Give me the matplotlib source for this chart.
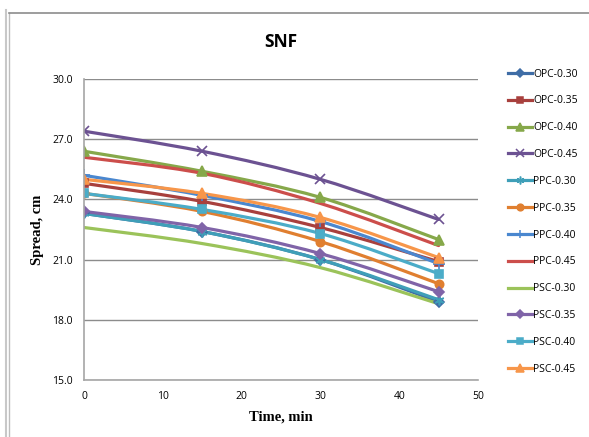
import numpy as np
import matplotlib
matplotlib.use('Agg')
import matplotlib.pyplot as plt
from matplotlib.path import Path
from matplotlib.patches import PathPatch
from matplotlib.lines import Line2D

# slump spread readings (cm) at each time step
time_min = [0, 15, 30, 45]

opc_030 = [23.3, 22.4, 21.0, 18.9]
opc_035 = [24.8, 23.9, 22.6, 20.9]
opc_040 = [26.4, 25.4, 24.1, 22.0]
opc_045 = [27.4, 26.4, 25.0, 23.0]
ppc_030 = [23.3, 22.4, 21.0, 19.0]
ppc_035 = [24.3, 23.4, 21.9, 19.8]
ppc_040 = [25.2, 24.2, 22.9, 20.8]
ppc_045 = [26.1, 25.3, 23.8, 21.7]
psc_030 = [22.6, 21.8, 20.6, 18.8]
psc_035 = [23.4, 22.6, 21.3, 19.4]
psc_040 = [24.3, 23.5, 22.3, 20.3]
psc_045 = [25.0, 24.3, 23.1, 21.1]

labels = ['OPC-0.30', 'OPC-0.35', 'OPC-0.40', 'OPC-0.45',
          'PPC-0.30', 'PPC-0.35', 'PPC-0.40', 'PPC-0.45',
          'PSC-0.30', 'PSC-0.35', 'PSC-0.40', 'PSC-0.45']
series = [opc_030, opc_035, opc_040, opc_045,
          ppc_030, ppc_035, ppc_040, ppc_045,
          psc_030, psc_035, psc_040, psc_045]

colors = ['#3F6DA6', '#A8403D', '#86A84A', '#6C5292',
          '#3F9FB8', '#E07F30', '#4A87CF', '#CC4E4B',
          '#9BC35A', '#8064A8', '#4BACC8', '#F7964A']
markers = ['D', 's', '^', 'x', (6, 2, 0), 'o', '+', None,
           None, 'D', 's', '^']
msizes = [5, 6, 7, 7, 7, 6, 8, 0, 0, 5, 6, 7]


def smooth_path(xs, ys):
    # cubic bezier through the points, like a spreadsheet "smoothed line"
    pts = np.column_stack([xs, ys]).astype(float)
    ext = np.vstack([pts[0], pts, pts[-1]])
    verts = [pts[0]]
    codes = [Path.MOVETO]
    for i in range(len(pts) - 1):
        p0, p1, p2, p3 = ext[i], ext[i + 1], ext[i + 2], ext[i + 3]
        c1 = p1 + (p2 - p0) / 6.0
        c2 = p2 - (p3 - p1) / 6.0
        verts += [c1, c2, p2]
        codes += [Path.CURVE4] * 3
    return Path(verts, codes)


fig = plt.figure(figsize=(5.89, 4.37), dpi=100)
ax = fig.add_axes([0.1426, 0.1304, 0.669, 0.6888])

for ys, c, m, ms in zip(series, colors, markers, msizes):
    patch = PathPatch(smooth_path(time_min, ys), facecolor='none',
                      edgecolor=c, lw=2.3, capstyle='round', joinstyle='round')
    ax.add_patch(patch)
    if m is not None:
        ax.plot(time_min, ys, ls='none', marker=m, ms=ms, color=c,
                mec=c, mew=1.2)

ax.set_xlim(0, 50)
ax.set_ylim(15, 30)
ax.set_xticks(range(0, 51, 10))
ax.set_yticks([15, 18, 21, 24, 27, 30])
ax.set_yticklabels(['%.1f' % v for v in [15, 18, 21, 24, 27, 30]])
ax.yaxis.grid(True, color='#8C8C8C', lw=1.0)
ax.set_axisbelow(True)
ax.tick_params(length=0, labelsize=7.5, pad=8)
for lab in ax.get_xticklabels() + ax.get_yticklabels():
    lab.set_family('Open Sans')
for s in ['top', 'right']:
    ax.spines[s].set_visible(False)
for s in ['left', 'bottom']:
    ax.spines[s].set_color('#A6A6A6')
    ax.spines[s].set_linewidth(1.2)

ax.set_title('SNF', fontsize=12.5, fontweight='bold', family='Open Sans', pad=23)
ax.set_xlabel('Time, min', fontsize=10.5, fontweight='bold',
              family='Liberation Serif', labelpad=6)
ax.set_ylabel('Spread, cm', fontsize=10.5, fontweight='bold',
              family='Liberation Serif', labelpad=6)

handles = [Line2D([], [], color=c, lw=2.3, marker=m if m is not None else '',
                  ms=ms * 0.8, mew=1.1) for c, m, ms in zip(colors, markers, msizes)]
fig.legend(handles, labels, loc='upper left', bbox_to_anchor=(0.862, 0.843),
           frameon=False, handlelength=2.3, handletextpad=0.15,
           labelspacing=1.52, borderpad=0, borderaxespad=0,
           prop={'family': 'Open Sans', 'size': 7.5})

# chart frame edges
fig.add_artist(Line2D([0.011, 0.011], [0.0, 0.977], color='#C8C8C8', lw=1.5))
fig.add_artist(Line2D([0.016, 0.016], [0.0, 0.97], color='#BEBEBE', lw=1.0))
fig.add_artist(Line2D([0.016, 1.0], [0.97, 0.97], color='#8C8C8C', lw=1.2))

fig.savefig('out.png', dpi=100)
